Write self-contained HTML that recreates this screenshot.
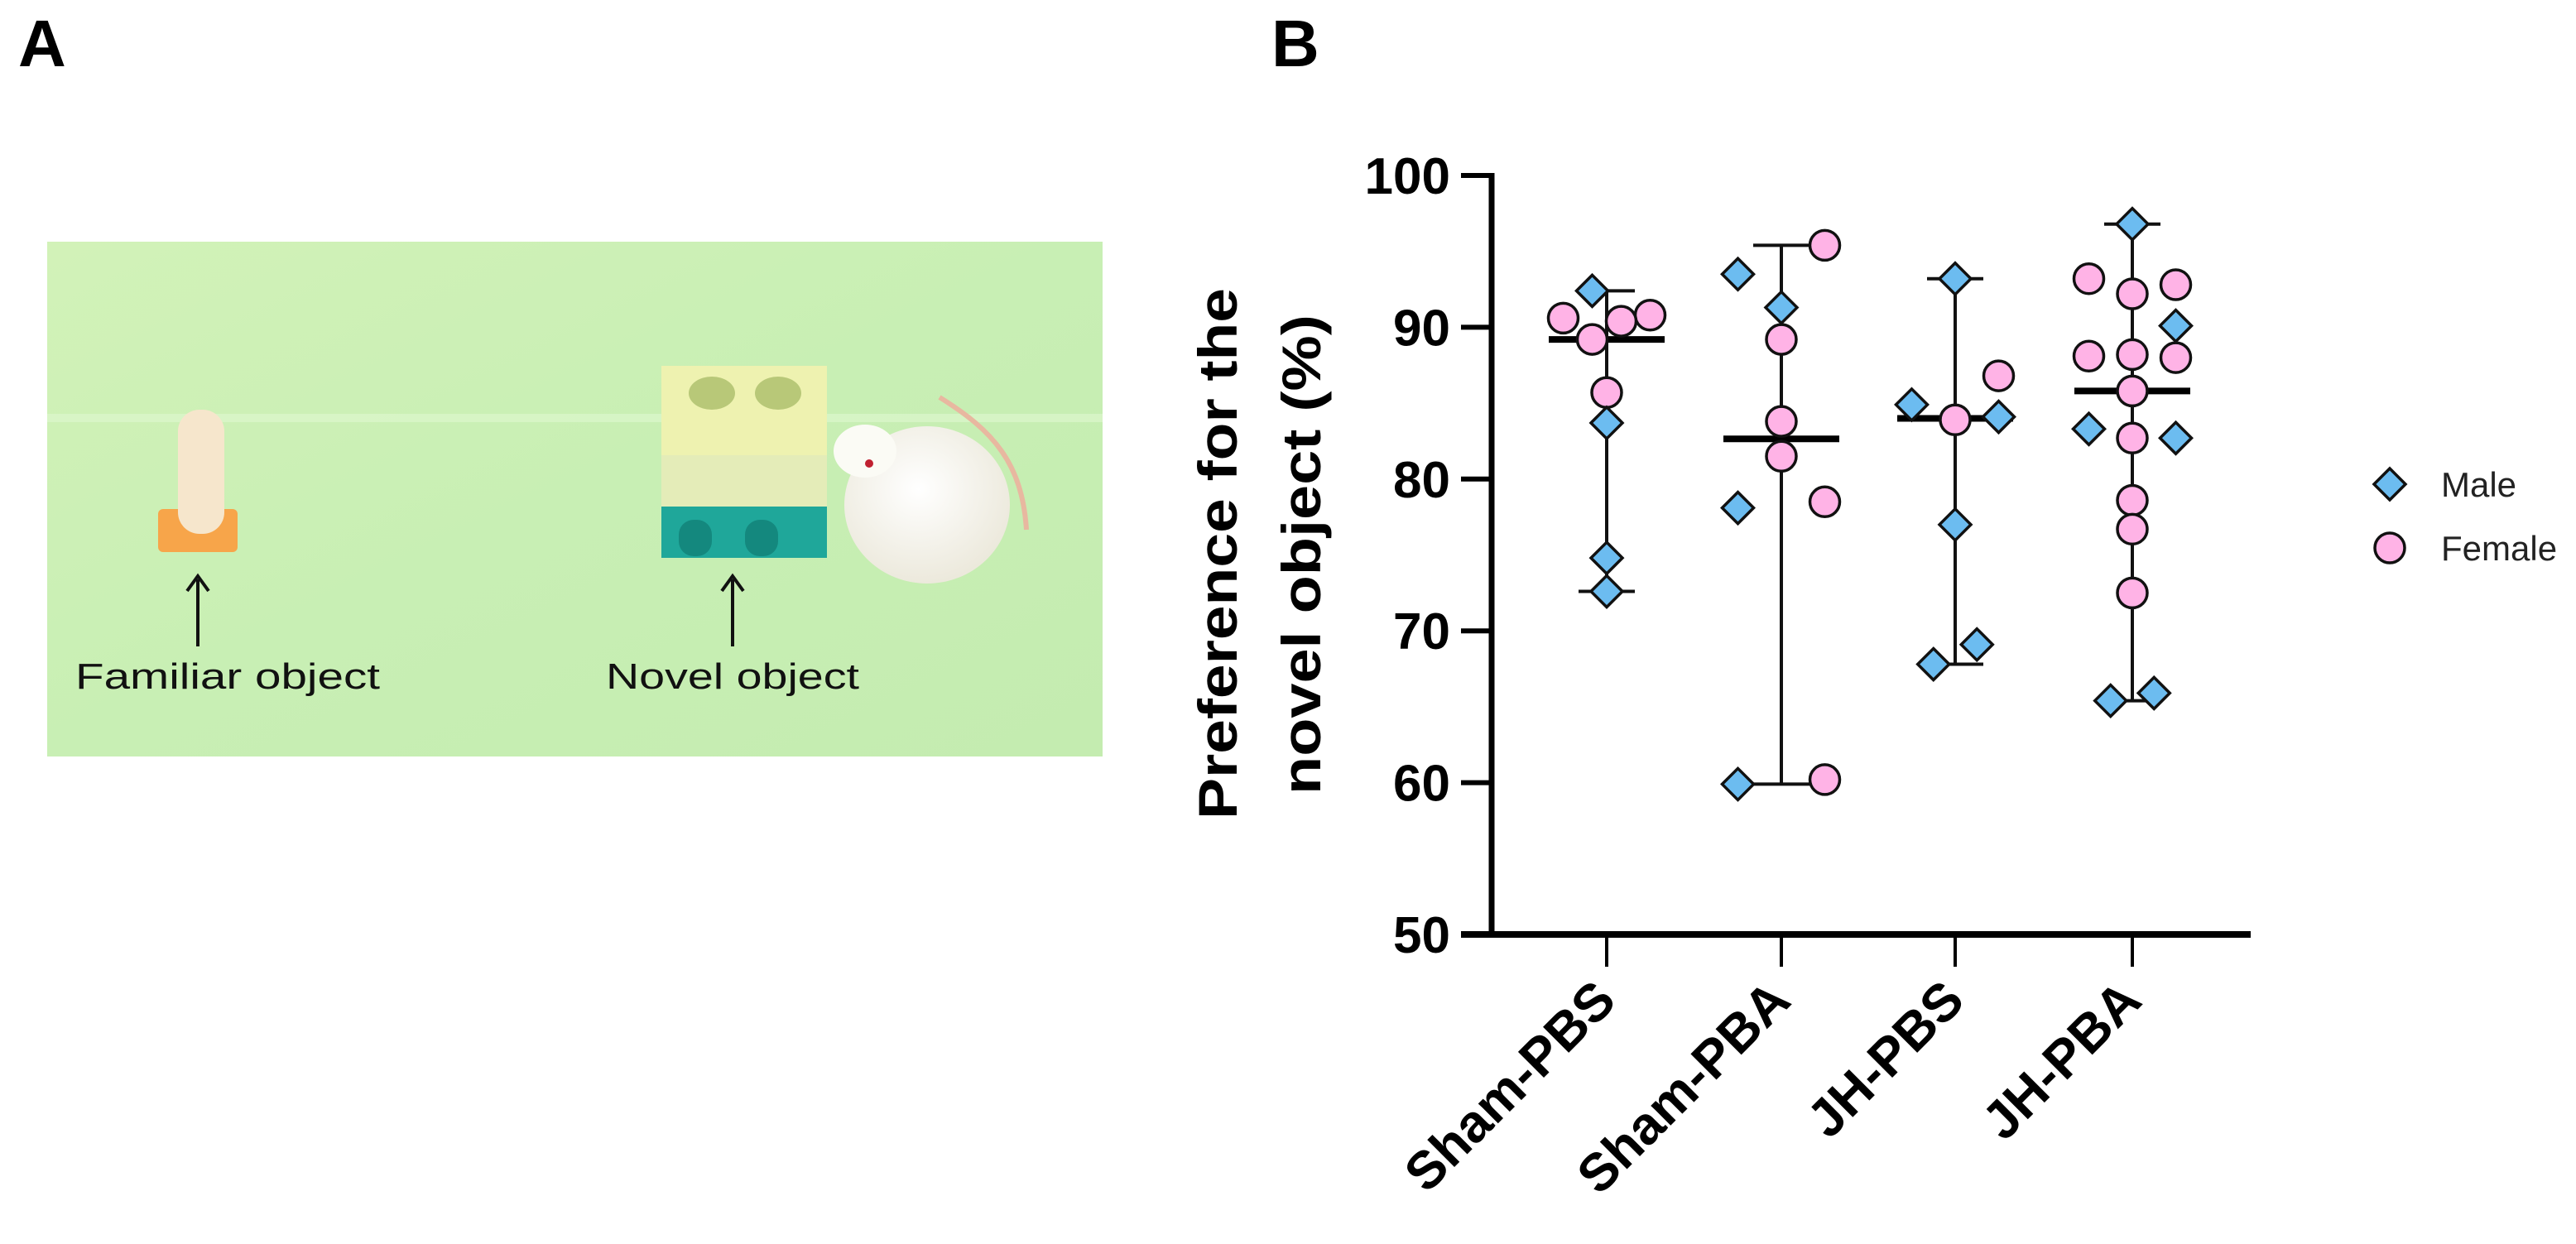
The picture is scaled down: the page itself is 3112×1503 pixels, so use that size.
<!DOCTYPE html>
<html><head><meta charset="utf-8"><style>
html,body{margin:0;padding:0;background:#fff;}
svg{display:block;}
text{font-family:"Liberation Sans",Arial,sans-serif;}
</style></head><body>
<svg id="fig" width="3112" height="1503" viewBox="0 0 3112 1503" xmlns="http://www.w3.org/2000/svg">
<defs>
<linearGradient id="bg" x1="0" y1="0" x2="1" y2="1"><stop offset="0" stop-color="#d2f2b8"/><stop offset="0.5" stop-color="#c8efb4"/><stop offset="1" stop-color="#c4ecb0"/></linearGradient>
<radialGradient id="mouseg" cx="0.45" cy="0.4" r="0.6"><stop offset="0" stop-color="#ffffff"/><stop offset="1" stop-color="#ece9dc"/></radialGradient>
</defs>
<text x="22" y="80" font-size="80" font-weight="bold">A</text>
<text x="1536" y="80" font-size="80" font-weight="bold">B</text>
<g>
<rect x="57" y="292" width="1275" height="622" fill="url(#bg)"/>
<rect x="57" y="500" width="1275" height="10" fill="#e0f8d0" opacity="0.6"/>
<g>
<rect x="191" y="615" width="96" height="52" rx="6" fill="#f7a54a"/>
<rect x="215" y="495" width="56" height="150" rx="26" fill="#f6e6cc"/>
</g>
<g>
<rect x="799" y="442" width="200" height="170" fill="#eef2b0"/>
<ellipse cx="860" cy="475" rx="28" ry="20" fill="#b8c878"/><ellipse cx="940" cy="475" rx="28" ry="20" fill="#b8c878"/>
<rect x="799" y="550" width="200" height="62" fill="#e4ecb8"/>
<rect x="799" y="612" width="200" height="62" fill="#1fa79a"/>
<rect x="820" y="628" width="40" height="44" rx="18" fill="#14887e"/><rect x="900" y="628" width="40" height="44" rx="18" fill="#14887e"/>
</g>
<g>
<path d="M1135,480 C1200,520 1235,560 1240,640" stroke="#e8b8a0" stroke-width="6" fill="none"/>
<ellipse cx="1120" cy="610" rx="100" ry="95" fill="url(#mouseg)"/>
<ellipse cx="1045" cy="545" rx="38" ry="32" fill="#fbfbf5"/>
<circle cx="1050" cy="560" r="5" fill="#c02030"/>
</g>
<line x1="239" y1="700" x2="239" y2="781" stroke="#111" stroke-width="4"/>
<path d="M226,714 L239,696 L252,714" stroke="#111" stroke-width="4" fill="none"/>
<line x1="885" y1="700" x2="885" y2="781" stroke="#111" stroke-width="4"/>
<path d="M872,714 L885,696 L898,714" stroke="#111" stroke-width="4" fill="none"/>
<text x="91" y="832" font-size="44" textLength="368" lengthAdjust="spacingAndGlyphs" fill="#111">Familiar object</text>
<text x="732" y="832" font-size="44" textLength="306" lengthAdjust="spacingAndGlyphs" fill="#111">Novel object</text>
</g>
<g id="chart"></g>
</svg>
<script>
const categories = ["Sham-PBS","Sham-PBA","JH-PBS","JH-PBA"];
const maleValues = [
  [92.4, 83.7, 74.8, 72.6],
  [93.5, 91.3, 78.1, 59.9],
  [93.2, 84.9, 84.1, 77.0, 67.8, 69.1],
  [96.8, 90.1, 83.3, 82.7, 65.4, 65.9]
];
const maleJitter = [
  [-1, 0, 0, 0],
  [-3, 0, -3, -3],
  [0, -3, 3, 0, -1.5, 1.5],
  [0, 3, -3, 3, -1.5, 1.5]
];
const femaleValues = [
  [90.6, 90.8, 90.4, 89.2, 85.7],
  [95.4, 89.2, 83.8, 81.5, 78.5, 60.2],
  [83.9, 86.8],
  [93.2, 92.2, 92.8, 88.1, 88.2, 88.0, 85.8, 82.7, 78.6, 76.7, 72.5]
];
const femaleJitter = [
  [-3, 3, 1, -1, 0],
  [3, 0, 0, 0, 3, 3],
  [0, 3],
  [-3, 0, 3, -3, 0, 3, 0, 0, 0, 0, 0]
];
const yTicks = [50, 60, 70, 80, 90, 100];

const NS = "http://www.w3.org/2000/svg";
const g = document.getElementById("chart");
const X0 = 1802, X1 = 2719, Y0 = 1129, Y1 = 212, VMIN = 50, VMAX = 100;
const catX = [1941, 2152, 2362, 2576];
const jit = 17.5;
function yScale(v){ return Y0 - (v - VMIN) / (VMAX - VMIN) * (Y0 - Y1); }
function xScale(i){ return catX[i]; }
function mk(tag, attrs, parent){
  const e = document.createElementNS(NS, tag);
  for (const k in attrs) e.setAttribute(k, attrs[k]);
  (parent || g).appendChild(e);
  return e;
}
function median(a){ const s=[...a].sort((p,q)=>p-q); const n=s.length; return n%2? s[(n-1)/2] : (s[n/2-1]+s[n/2])/2; }

// axes
let ya = mk("line",{x1:X0,y1:Y1-3,x2:X0,y2:Y0+3,stroke:"#000","stroke-width":7});


let xa = mk("line",{x1:X0-37,y1:Y0,x2:X1,y2:Y0,stroke:"#000","stroke-width":8});


yTicks.forEach(t=>{
  const y = yScale(t);
  const tk = mk("line",{x1:X0-37,y1:y,x2:X0,y2:y,stroke:"#000","stroke-width":6});
  
  
  const tl = mk("text",{x:1752,y:y+22,"font-size":62,"font-weight":"bold","text-anchor":"end"});
  tl.textContent = t;
  
  
});
categories.forEach((c,i)=>{
  const x = xScale(i);
  const tk = mk("line",{x1:x,y1:Y0,x2:x,y2:1168,stroke:"#000","stroke-width":4});
  
  
  const tl = mk("text",{x:0,y:0,"font-size":64,"font-weight":"bold","text-anchor":"end",transform:"translate("+(x+14)+",1212) rotate(-45)"});
  tl.textContent = c;
  
  
});
// y title
const t1 = mk("text",{x:0,y:0,"font-size":66,"font-weight":"bold","text-anchor":"middle",textLength:642,lengthAdjust:"spacingAndGlyphs",transform:"translate(1494,669) rotate(-90)"});
t1.textContent = "Preference for the";


const t2 = mk("text",{x:0,y:0,"font-size":66,"font-weight":"bold","text-anchor":"middle",textLength:580,lengthAdjust:"spacingAndGlyphs",transform:"translate(1595,670) rotate(-90)"});
t2.textContent = "novel object (%)";



// summary (median + range)
categories.forEach((c,i)=>{
  const all = maleValues[i].concat(femaleValues[i]);
  const x = xScale(i);
  const mn = Math.min(...all), mx = Math.max(...all), md = median(all);
  const w = mk("line",{x1:x,y1:yScale(mx),x2:x,y2:yScale(mn),stroke:"#111","stroke-width":4});
  
  
  [mx,mn].forEach((v,k)=>{
    const cap = mk("line",{x1:x-34,y1:yScale(v),x2:x+34,y2:yScale(v),stroke:"#111","stroke-width":4});
    
    
  });
  const m = mk("line",{x1:x-70,y1:yScale(md),x2:x+70,y2:yScale(md),stroke:"#000","stroke-width":8});
  
  
});
function diamond(cx,cy,r){ return (cx)+","+(cy-r)+" "+(cx+r)+","+cy+" "+cx+","+(cy+r)+" "+(cx-r)+","+cy; }
categories.forEach((c,i)=>{
  femaleValues[i].forEach((v,j)=>{
    const p = mk("circle",{cx:xScale(i)+femaleJitter[i][j]*jit,cy:yScale(v),r:18,fill:"#ffb3e6",stroke:"#111","stroke-width":3.5});
    
    
  });
  maleValues[i].forEach((v,j)=>{
    const p = mk("polygon",{points:diamond(xScale(i)+maleJitter[i][j]*jit,yScale(v),19),fill:"#6cbcf0",stroke:"#111","stroke-width":3.5});
    
    
  });
});
// legend
const lm = mk("polygon",{points:diamond(2887,585,19),fill:"#6cbcf0",stroke:"#111","stroke-width":3.5});


const lmt = mk("text",{x:2949,y:600,"font-size":42,fill:"#222"});
lmt.textContent = "Male";


const lf = mk("circle",{cx:2887,cy:662,r:18,fill:"#ffb3e6",stroke:"#111","stroke-width":3.5});


const lft = mk("text",{x:2949,y:677,"font-size":42,fill:"#222"});
lft.textContent = "Female";


</script>
</body></html>
